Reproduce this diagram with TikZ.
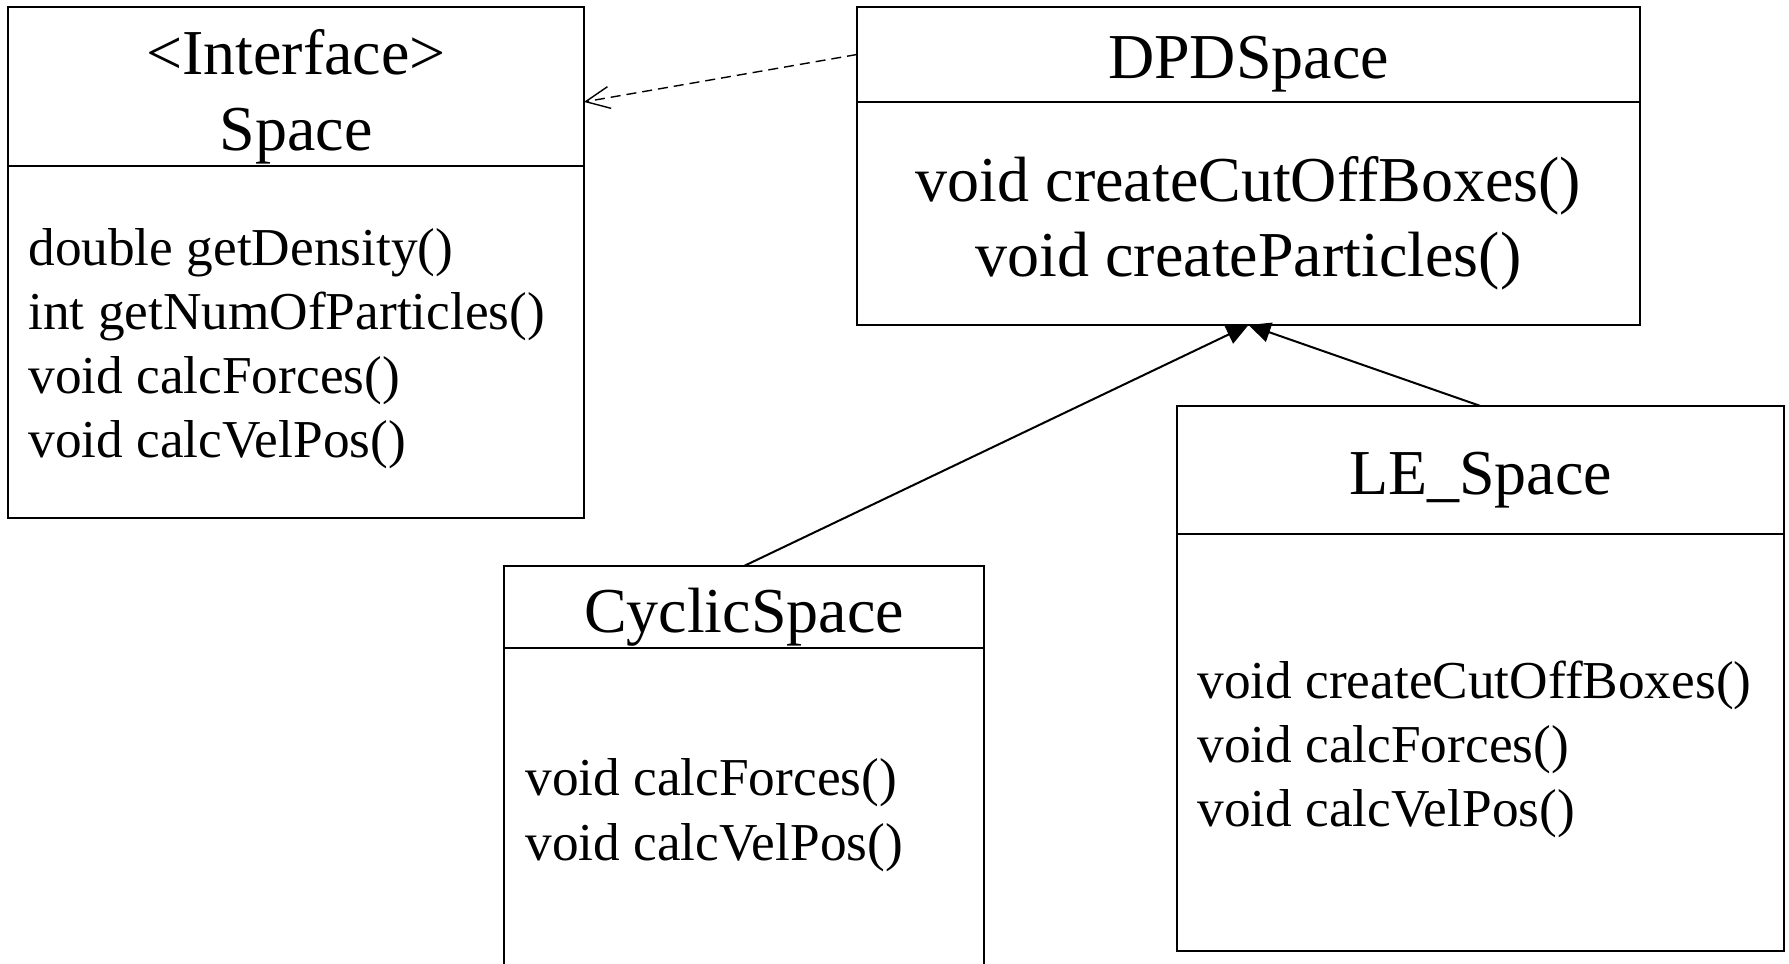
\documentclass[tikz,border=0pt]{standalone}
\usepackage{fontspec}
\setmainfont{Liberation Serif}
\usetikzlibrary{arrows.meta,calc}
\begin{document}
\begin{tikzpicture}[x=0.5pt,y=-0.5pt,
  box/.style={draw,line width=1pt,inner sep=0pt,outer sep=0pt,anchor=north west},
  ttl/.style={font=\fontsize{32}{38}\selectfont,anchor=base,inner sep=0pt},
  mem/.style={font=\fontsize{26.65}{32}\selectfont,anchor=base west,inner sep=0pt},
  dmem/.style={font=\fontsize{32}{38}\selectfont,anchor=base,inner sep=0pt},
  gen/.style={line width=1pt,-{Triangle[length=11pt,width=10pt]}},
  real/.style={line width=0.7pt,dash pattern=on 5pt off 3pt,-{Straight Barb[length=12pt,width=11pt,line width=0.7pt]}}]
\useasboundingbox (0,0) rectangle (1789,964);
\clip (0,0) rectangle (1789,964);
% Space (interface)
\node[box,minimum width=288pt,minimum height=79.5pt] (spaceh) at (8,7) {};
\node[box,minimum width=288pt,minimum height=176pt] (spaceb) at (8,166) {};
\node[ttl] (iface) at (296,74) {<Interface>};
\node[ttl] (spacet) at (296,150) {Space};
\node[mem] (s1) at (28,265.5) {double getDensity()};
\node[mem] (s2) at (28,329.5) {int getNumOfParticles()};
\node[mem] (s3) at (28,393.5) {void calcForces()};
\node[mem] (s4) at (28,457.5) {void calcVelPos()};
% DPDSpace
\node[box,minimum width=391.5pt,minimum height=47.5pt] (dpdh) at (857,7) {};
\node[box,minimum width=391.5pt,minimum height=111.5pt] (dpdb) at (857,102) {};
\node[ttl] (dpdt) at (1248.5,78) {DPDSpace};
\node[dmem] (d1) at (1248.5,201) {void createCutOffBoxes()};
\node[dmem] (d2) at (1248.5,276) {void createParticles()};
% CyclicSpace
\node[box,minimum width=240pt,minimum height=41pt] (cych) at (504,566) {};
\node[box,minimum width=240pt,minimum height=180pt] (cycb) at (504,648) {};
\node[ttl] (cyct) at (744,632.5) {CyclicSpace};
\node[mem] (c1) at (525,795.5) {void calcForces()};
\node[mem] (c2) at (525,860.5) {void calcVelPos()};
% LE_Space
\node[box,minimum width=303.5pt,minimum height=64pt] (leh) at (1177,406) {};
\node[box,minimum width=303.5pt,minimum height=208.5pt] (leb) at (1177,534) {};
\node[ttl] (let) at (1480.5,494.5) {LE\_Space};
\node[mem] (l1) at (1197,698.5) {void createCutOffBoxes()};
\node[mem] (l2) at (1197,762.5) {void calcForces()};
\node[mem] (l3) at (1197,826.5) {void calcVelPos()};
% connectors
\coordinate (rt) at ($(spaceh.north east)!0.597!(spaceh.south east)$);
\draw[real] (dpdh.west) -- (rt);
\draw[gen] (cych.north) -- (dpdb.south);
\draw[gen] (leh.north) -- (dpdb.south);
\end{tikzpicture}
\end{document}
